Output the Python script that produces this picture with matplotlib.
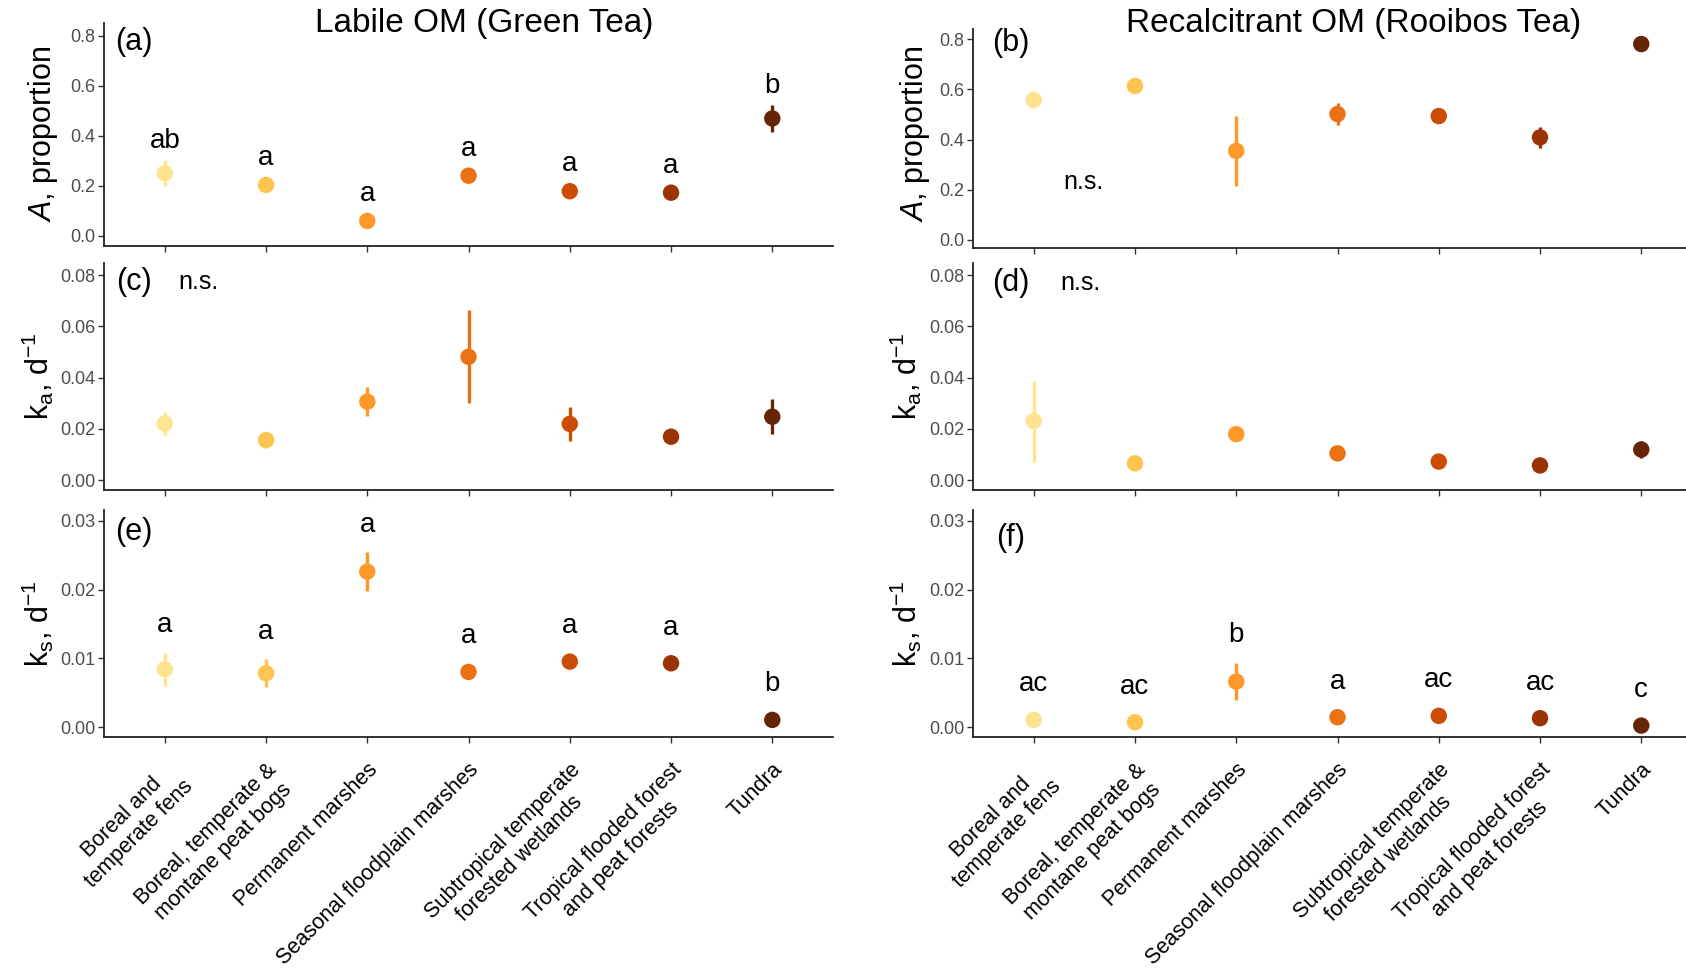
import numpy as np
import matplotlib
matplotlib.use("Agg")
import matplotlib.pyplot as plt

plt.rcParams.update({
    "font.family": ["Liberation Sans", "DejaVu Sans"],
    "mathtext.fontset": "custom",
    "mathtext.rm": "Liberation Sans",
    "mathtext.it": "Liberation Sans:italic",
    "axes.linewidth": 1.3,
})

# ---------------------------------------------------------------- data
habitats = ["Boreal and\ntemperate fens", "Boreal, temperate &\nmontane peat bogs",
            "Permanent marshes", "Seasonal floodplain marshes",
            "Subtropical temperate\nforested wetlands", "Tropical flooded forest\nand peat forests",
            "Tundra"]
colors = ["#FEE391", "#FEC44F", "#FE9929", "#EC7014", "#CC4C02", "#993404", "#662506"]

# (a) labile fraction, green tea
green_A = [0.250, 0.203, 0.059, 0.240, 0.178, 0.172, 0.469]
green_A_se = [0.052, 0.008, 0.005, 0.008, 0.006, 0.006, 0.054]
green_A_letters = ["ab", "a", "a", "a", "a", "a", "b"]
# (b) labile fraction, rooibos tea
rooibos_A = [0.558, 0.614, 0.355, 0.502, 0.494, 0.409, 0.781]
rooibos_A_se = [0.008, 0.008, 0.138, 0.045, 0.008, 0.043, 0.006]
# (c) ka, green tea
green_ka = [0.0220, 0.0156, 0.0306, 0.0481, 0.0219, 0.0169, 0.0247]
green_ka_se = [0.0045, 0.0033, 0.0057, 0.0182, 0.0065, 0.0015, 0.0069]
# (d) ka, rooibos tea
rooibos_ka = [0.0230, 0.0065, 0.0179, 0.0104, 0.0072, 0.0057, 0.0119]
rooibos_ka_se = [0.0158, 0.0008, 0.0008, 0.0008, 0.0008, 0.0008, 0.0032]
# (e) ks, green tea
green_ks = [0.00842, 0.00784, 0.02260, 0.00803, 0.00953, 0.00929, 0.00106]
green_ks_se = [0.0024, 0.0020, 0.0028, 0.0003, 0.0003, 0.0003, 0.0003]
green_ks_letters = ["a", "a", "a", "a", "a", "a", "b"]
# (f) ks, rooibos tea
rooibos_ks = [0.00106, 0.00073, 0.00663, 0.00145, 0.00165, 0.00131, 0.00024]
rooibos_ks_se = [0.0002, 0.0002, 0.0027, 0.0002, 0.0002, 0.0002, 0.0002]
rooibos_ks_letters = ["ac", "ac", "b", "a", "ac", "ac", "c"]

TICK_FONT = ["Liberation Sans Narrow", "Liberation Sans", "DejaVu Sans"]
X = np.arange(1, len(habitats) + 1)

fig = plt.figure(figsize=(16.86, 9.73), dpi=100)


def panel(rect, ylim, yticks, yfmt, means, ses, tag, tag_xy, letters=None,
          letter_off=0.0, marker_half=0.0, ns_xy=None, xlabels=False):
    ax = fig.add_axes(rect)
    means = np.asarray(means); ses = np.asarray(ses)
    ax.vlines(X, means - ses, means + ses, colors=colors, lw=2.4, zorder=2)
    ax.scatter(X, means, s=140, c=colors, edgecolors="none", zorder=3)
    ax.set_xlim(0.4, 7.6)
    ax.set_ylim(*ylim)
    ax.set_yticks(yticks)
    ax.set_yticklabels([yfmt.format(v) for v in yticks], family=TICK_FONT,
                       fontsize=13, color="#4D4D4D")
    ax.set_xticks(X)
    if xlabels:
        ax.set_xticklabels(habitats, rotation=45, ha="right", va="top",
                           rotation_mode="anchor", fontsize=15.5, multialignment="center",
                           linespacing=1.2)
    else:
        ax.set_xticklabels([])
    ax.tick_params(axis="both", length=4, width=1.0, color="#333333", pad=2)
    ax.tick_params(axis="x", pad=12)
    for sp in ("top", "right"):
        ax.spines[sp].set_visible(False)
    for sp in ("left", "bottom"):
        ax.spines[sp].set_color("#222222")
    ax.text(tag_xy[0], tag_xy[1], tag, transform=ax.transAxes, fontsize=22,
            ha="center", va="center")
    if letters is not None:
        for xi, m, e, lab in zip(X, means, ses, letters):
            ax.text(xi, m + max(e, marker_half) + letter_off, lab, fontsize=20,
                    ha="center", va="baseline")
    if ns_xy is not None:
        ax.text(ns_xy[0], ns_xy[1], "n.s.", transform=ax.transAxes, fontsize=18,
                ha="center", va="center")
    ax.patch.set_alpha(0)
    return ax


L1, L2, W = 0.0617, 0.5771, 0.4324

A_ticks = [0.0, 0.2, 0.4, 0.6, 0.8]
ka_ticks = [0.00, 0.02, 0.04, 0.06, 0.08]
ks_ticks = [0.00, 0.01, 0.02, 0.03]

panel((L1, 0.7475, W, 0.2289), (-0.04, 0.851), A_ticks, "{:.1f}", green_A, green_A_se,
      "(a)", (0.041, 0.915), letters=green_A_letters, letter_off=0.048, marker_half=0.032)
panel((L2, 0.7451, W, 0.2251), (-0.032, 0.841), A_ticks, "{:.1f}", rooibos_A, rooibos_A_se,
      "(b)", (0.052, 0.936), ns_xy=(0.152, 0.30))
panel((L1, 0.4964, W, 0.2333), (-0.0039, 0.0847), ka_ticks, "{:.2f}", green_ka, green_ka_se,
      "(c)", (0.041, 0.916), ns_xy=(0.129, 0.916))
panel((L2, 0.4964, W, 0.2333), (-0.0039, 0.0847), ka_ticks, "{:.2f}", rooibos_ka, rooibos_ka_se,
      "(d)", (0.052, 0.912), ns_xy=(0.148, 0.912))
panel((L1, 0.2425, W, 0.2333), (-0.00143, 0.03155), ks_ticks, "{:.2f}", green_ks, green_ks_se,
      "(e)", (0.041, 0.903), letters=green_ks_letters, letter_off=0.003,
      marker_half=0.00116, xlabels=True)
panel((L2, 0.2425, W, 0.2333), (-0.00143, 0.03155), ks_ticks, "{:.2f}", rooibos_ks, rooibos_ks_se,
      "(f)", (0.052, 0.877), letters=rooibos_ks_letters, letter_off=0.003,
      marker_half=0.00116, xlabels=True)

# y labels
ylab_A = "$\\it{A}$, proportion"
ylab_ka = "k$_{\\mathrm{a}}$, d$^{-1}$"
ylab_ks = "k$_{\\mathrm{s}}$, d$^{-1}$"
for x, y, lab in [(0.0255, 0.862, ylab_A), (0.543, 0.862, ylab_A),
                  (0.0225, 0.613, ylab_ka), (0.537, 0.613, ylab_ka),
                  (0.0225, 0.359, ylab_ks), (0.537, 0.359, ylab_ks)]:
    fig.text(x, y, lab, rotation=90, ha="center", va="center", fontsize=22)

fig.text(0.287, 0.976, "Labile OM (Green Tea)", ha="center", va="center", fontsize=24)
fig.text(0.803, 0.976, "Recalcitrant OM (Rooibos Tea)", ha="center", va="center", fontsize=24)

fig.savefig("out.png", dpi=100)
